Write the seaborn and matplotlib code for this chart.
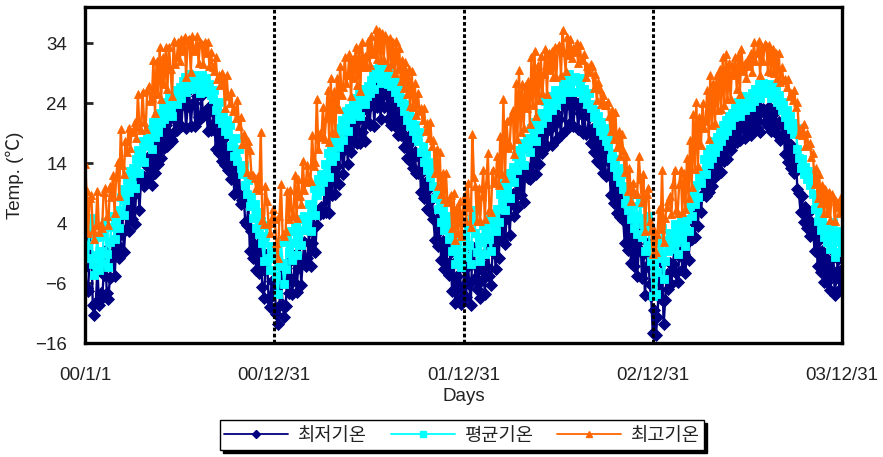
import matplotlib
matplotlib.use("Agg")
import matplotlib.pyplot as plt
import pandas as pd
import seaborn as sns

sns.set_style("white")
plt.rcParams["font.family"] = ["Liberation Sans", "Noto Sans CJK KR", "DejaVu Sans"]

# Daily temperature readings, one sample every 3 days, one block per month row
year_starts = ["2000-01-01", "2001-01-01", "2002-01-02", "2003-01-03"]

tmin_2000 = [
    -3.3, -6.8, -7.3, -1.2, 1.3, -9.7, -11.3, -9.1, -3.6, -9.6, -7.6,
    -8.5, -4.6, -0.7, -7.7, -8.6, -5.2, -2.1, 0.9, -4.9, -0.5,
    0.4, -1.8, 2.2, 5.3, -0.8, 2.9, 6.1, 2.7, 8.4, 4.7,
    8.5, 3.9, 10.3, 11.1, 6.1, 11.2, 11.8, 10.2, 10.6, 13.5,
    11.5, 15.3, 10.4, 16.9, 12.3, 17.1, 13.8, 18.8, 14.9, 18.9,
    16.5, 20.4, 16.8, 21.4, 18.0, 17.7, 19.1, 22.3, 19.5, 20.7,
    23.3, 20.1, 24.7, 24.3, 19.9, 23.5, 26.1, 20.1, 23.9, 24.0, 20.1,
    25.1, 21.7, 21.4, 25.4, 21.8, 22.5, 22.7, 19.3, 23.4, 19.5,
    20.5, 22.4, 16.4, 19.0, 15.6, 20.6, 14.4, 18.0, 13.7, 16.5,
    12.8, 16.5, 11.4, 13.7, 8.9, 13.5, 9.2, 12.6, 7.1, 7.8,
    8.7, 4.2, 3.6, 7.1, -0.6, 2.7, -1.9, 2.4, -3.9, 0.5,
    -4.3, -0.7, -6.7, -8.5, -3.7, -1.2, -8.7, -10.0, -5.6, -7.9,
]
tmean_2000 = [
    2.8, 0.4, -1.9, 3.6, 4.9, -2.8, -4.7, -1.3, 1.6, -3.9, -0.7,
    -2.6, 1.8, 4.2, -1.1, -3.4, 0.9, 3.3, 5.1, 1.4, 4.6,
    6.2, 3.1, 8.4, 9.6, 5.3, 7.8, 11.2, 9.1, 12.6, 10.4,
    13.1, 9.8, 14.7, 16.2, 12.4, 15.3, 17.6, 14.1, 16.8, 18.2,
    17.1, 19.6, 16.3, 20.8, 18.4, 21.9, 19.2, 22.4, 20.6, 23.3,
    21.4, 24.1, 22.6, 25.3, 23.2, 21.8, 24.7, 26.1, 23.9, 25.8,
    26.7, 24.9, 27.6, 28.4, 25.8, 27.1, 28.9, 26.3, 27.8, 28.6, 26.9,
    28.2, 27.3, 25.6, 28.7, 27.9, 26.4, 28.1, 25.9, 27.2, 25.4,
    24.6, 26.1, 22.8, 23.9, 21.4, 24.2, 20.6, 22.3, 19.4, 21.1,
    18.9, 20.4, 16.8, 17.9, 15.2, 18.1, 14.3, 16.4, 13.1, 12.2,
    13.6, 10.4, 8.9, 11.2, 6.8, 8.3, 4.9, 7.1, 3.2, 5.8,
    2.1, 4.4, 0.6, -2.3, 1.9, 3.6, -1.8, -3.9, 0.2, -1.4,
]
tmax_2000 = [
    13.9, 9.3, 2.3, 8.1, 8.7, 2.8, 1.4, 3.6, 9.4, 2.5, 3.9,
    3.2, 9.2, 9.8, 5.2, 3.7, 10.1, 8.4, 12.0, 5.7, 11.7,
    14.1, 8.5, 19.6, 13.7, 12.1, 17.7, 15.8, 19.9, 16.5, 19.2,
    19.3, 20.9, 18.1, 25.5, 20.0, 19.5, 25.9, 20.9, 19.7, 26.1,
    26.9, 24.3, 24.9, 31.2, 22.3, 31.0, 25.5, 33.3, 24.7, 31.7,
    27.1, 33.3, 26.4, 33.4, 29.6, 25.1, 34.3, 30.5, 31.6, 34.2,
    31.0, 34.7, 32.7, 35.0, 28.4, 34.5, 34.7, 29.2, 35.1, 32.7, 33.1,
    35.1, 30.7, 34.2, 33.9, 30.5, 34.2, 32.4, 34.2, 30.1, 32.5,
    30.0, 29.3, 31.7, 28.0, 28.7, 27.0, 29.0, 27.9, 23.1, 28.7,
    25.2, 24.0, 25.9, 22.6, 23.1, 21.5, 24.5, 20.2, 21.7, 17.1,
    18.8, 18.2, 12.5, 17.6, 16.1, 12.2, 12.0, 11.5, 9.8, 11.9,
    9.5, 19.2, 4.5, 3.9, 10.2, 7.7, 4.0, 2.4, 4.9, 6.4,
]

tmin_2001 = [
    -7.4, -11.2, -12.8, -9.9, -4.5, -9.7, -11.7, -9.9, -4.7, -7.7, -2.3,
    -7.8, -5.7, -1.4, -7.5, -3.5, 0.6, -6.3, -2.4, 0.9, -3.1,
    -1.8, 2.6, -3.2, 0.7, 5.5, -0.9, 3.7, 5.8, 5.5, 6.7,
    5.7, 9.3, 5.8, 11.4, 5.7, 12.5, 8.7, 13.9, 8.9, 13.5,
    10.5, 15.6, 16.2, 12.1, 16.3, 18.7, 13.9, 18.9, 15.8, 20.3,
    17.5, 20.9, 17.3, 22.2, 17.3, 19.2, 22.8, 17.7, 21.0, 23.2,
    20.3, 24.3, 25.9, 20.2, 26.9, 23.3, 26.9, 21.4, 25.8, 23.3, 25.9,
    25.3, 21.3, 25.4, 20.4, 23.6, 20.2, 23.8, 18.7, 22.1, 18.7,
    20.8, 16.7, 20.2, 14.9, 18.5, 14.3, 17.6, 13.1, 15.8, 12.3,
    12.4, 15.0, 9.2, 12.6, 8.1, 10.9, 6.4, 9.9, 5.8, 8.0,
    4.6, 1.2, 4.6, 0.1, 2.9, -2.1, 1.0, -3.7, 0.5, -2.7,
    -4.6, -0.9, -7.4, -2.7, -9.3, -4.8, -8.8, -3.2, -9.5, -6.5,
]
tmean_2001 = [
    -1.6, -4.8, -7.9, -3.2, 0.8, -2.6, -6.1, -3.7, 1.2, -0.9, 2.6,
    -2.1, 0.6, 3.4, -1.4, 1.9, 4.7, 0.3, 2.8, 5.2, 3.1,
    4.1, 7.2, 2.6, 6.8, 9.9, 5.4, 8.6, 11.4, 9.3, 12.1,
    10.8, 13.9, 12.2, 15.6, 11.6, 16.9, 14.4, 17.8, 15.1, 18.3,
    16.6, 19.8, 21.1, 17.9, 20.4, 22.6, 19.3, 23.2, 21.4, 24.1,
    22.2, 24.8, 23.1, 25.6, 21.9, 24.3, 26.4, 23.8, 25.2, 26.9,
    25.7, 27.9, 28.8, 26.4, 29.6, 28.1, 30.1, 27.3, 29.2, 28.4, 29.8,
    28.6, 27.1, 29.3, 26.8, 28.2, 25.9, 27.6, 24.8, 26.3, 24.1,
    24.9, 22.6, 23.8, 21.2, 22.9, 20.1, 21.7, 19.3, 20.4, 18.2,
    17.6, 19.1, 15.8, 16.9, 14.2, 15.6, 12.8, 14.1, 11.6, 12.9,
    10.2, 8.1, 9.4, 6.3, 7.8, 4.2, 6.1, 2.9, 5.2, 3.4,
    1.3, 3.8, -0.6, 2.4, -2.9, 0.8, -1.9, 1.6, -3.4, -0.8,
]
tmax_2001 = [
    4.6, 0.6, -1.8, 5.1, 10.5, 2.2, 1.8, 2.7, 9.3, 4.7, 9.5,
    5.2, 5.5, 12.0, 4.8, 11.3, 8.5, 7.2, 14.4, 9.5, 10.9,
    13.7, 11.4, 11.0, 18.7, 13.5, 14.2, 24.7, 16.3, 19.0, 18.3,
    23.4, 18.0, 21.5, 26.2, 17.5, 28.1, 19.1, 26.0, 19.0, 28.1,
    23.0, 30.1, 25.3, 26.6, 31.6, 27.4, 28.7, 32.1, 25.1, 31.3,
    28.1, 33.4, 27.0, 33.0, 26.0, 34.1, 30.0, 31.9, 30.0, 34.4,
    30.3, 35.2, 32.2, 32.5, 36.3, 31.3, 36.0, 31.1, 35.6, 31.1, 35.4,
    34.7, 30.0, 34.9, 30.5, 34.1, 29.0, 34.3, 29.7, 33.2, 27.7,
    31.1, 26.5, 30.9, 25.5, 29.7, 23.5, 29.3, 23.4, 27.3, 22.0,
    25.7, 22.7, 23.2, 21.1, 23.1, 19.3, 20.6, 18.2, 20.9, 16.8,
    17.8, 12.4, 16.3, 10.1, 15.9, 8.8, 12.4, 8.0, 12.4, 7.5,
    7.7, 8.7, 3.2, 9.0, 1.2, 6.7, 2.4, 7.7, 1.8, 6.0,
]

tmin_2002 = [
    -3.7, -8.4, -1.9, -6.2, -9.7, -0.2, -0.2, -5.1, -7.0, -3.7, -8.5,
    -5.5, -1.3, -7.9, -3.2, 0.7, -4.8, -6.4, -0.8, 0.7, -3.6,
    1.6, -1.8, 4.6, 1.1, 6.5, 0.5, 4.8, 8.4, 2.0, 7.2,
    8.8, 5.1, 11.1, 6.5, 12.2, 8.7, 13.7, 7.5, 12.3, 13.3,
    11.5, 11.3, 16.0, 12.0, 16.8, 12.2, 17.8, 13.9, 18.1, 15.7,
    16.5, 20.5, 16.9, 19.7, 21.5, 17.0, 20.2, 22.5, 17.9, 21.2,
    21.3, 18.7, 23.8, 24.1, 19.5, 23.9, 24.5, 20.6, 24.4, 20.1, 24.1,
    23.8, 19.7, 22.4, 24.4, 19.0, 22.3, 18.9, 19.2, 21.7, 17.3,
    19.6, 15.8, 19.0, 14.4, 17.8, 13.8, 16.9, 12.3, 15.7, 11.8,
    12.2, 14.1, 8.6, 11.5, 7.3, 10.3, 5.6, 8.8, 5.0, 7.5,
    4.5, 0.6, 5.9, -0.5, 3.5, -2.6, 1.8, -3.2, 0.5, -4.8,
    -0.4, 3.7, -5.2, -1.2, -8.0, -3.1, 0.7, -6.2, -8.2, -14.3,
]
tmean_2002 = [
    1.9, -1.6, 3.2, 0.4, -2.8, 4.6, 6.1, 2.3, -0.8, 1.7, -2.4,
    0.9, 3.6, -1.2, 2.4, 4.9, 1.3, -0.6, 3.8, 5.6, 2.7,
    6.4, 4.1, 8.9, 7.3, 10.6, 6.2, 9.4, 12.3, 8.1, 11.6,
    13.4, 10.9, 15.2, 12.8, 16.1, 14.3, 17.4, 13.6, 16.6, 18.1,
    17.4, 15.9, 19.8, 18.2, 20.9, 17.6, 21.4, 19.7, 22.3, 20.6,
    22.1, 24.3, 21.6, 23.8, 25.1, 22.9, 24.6, 26.2, 23.7, 25.4,
    26.1, 24.6, 27.4, 28.2, 25.9, 27.8, 28.9, 26.7, 27.9, 25.8, 28.3,
    27.6, 25.9, 26.8, 28.1, 24.9, 26.4, 25.2, 23.8, 25.6, 23.1,
    23.9, 21.7, 22.8, 20.6, 21.9, 19.4, 20.8, 18.7, 19.9, 17.6,
    16.8, 18.2, 14.9, 15.7, 13.4, 14.6, 11.8, 13.2, 10.9, 12.1,
    9.6, 7.4, 10.2, 6.1, 8.3, 4.6, 6.9, 3.2, 5.4, 2.1,
    4.8, 7.3, 1.6, 3.9, -0.7, 2.8, 5.1, 0.4, -2.3, -8.2,
]
tmax_2002 = [
    8.6, 4.3, 10.6, 6.6, 3.3, 18.8, 11.7, 10.2, 4.3, 9.9, 4.4,
    8.5, 12.8, 4.7, 10.5, 15.6, 6.1, 5.8, 12.9, 10.8, 10.6,
    15.1, 10.3, 18.5, 12.1, 24.7, 11.5, 21.0, 16.5, 17.0, 21.8,
    22.8, 15.5, 27.3, 18.0, 29.5, 19.1, 27.1, 19.8, 26.9, 23.2,
    27.6, 20.5, 31.7, 23.6, 32.7, 21.8, 30.3, 24.5, 31.9, 25.7,
    28.9, 33.0, 25.5, 32.4, 29.5, 32.6, 28.4, 33.3, 28.3, 33.3,
    33.7, 28.7, 36.2, 32.5, 29.3, 35.0, 32.0, 34.6, 31.5, 33.1, 32.5,
    34.0, 30.6, 33.7, 31.3, 31.2, 32.2, 28.3, 30.2, 29.2, 30.5,
    30.1, 26.5, 28.9, 24.5, 27.5, 26.3, 23.9, 25.3, 23.6, 23.7,
    24.2, 21.8, 19.3, 22.8, 18.0, 22.5, 16.6, 19.3, 15.2, 18.8,
    16.2, 12.5, 15.1, 9.3, 13.2, 7.7, 10.7, 9.1, 8.8, 8.9,
    15.2, 11.4, 7.5, 12.1, 2.7, 8.9, 9.9, 4.3, 2.8, -1.1,
]

tmin_2003 = [
    -10.5, -14.7, -11.7, -5.6, -8.7, -2.7, -12.9, -8.8, -4.5, -7.0, -2.7,
    -6.2, -2.8, -0.1, -4.4, -5.8, -1.5, 0.8, -3.8, -1.1, -4.4,
    0.6, -2.2, 1.8, 1.3, 4.2, 1.7, 6.1, 3.5, 8.1, 5.9,
    8.8, 10.2, 8.5, 11.7, 9.1, 13.0, 10.2, 13.7, 11.6, 14.2,
    12.2, 15.3, 12.5, 16.7, 14.3, 17.3, 14.6, 18.2, 16.1, 18.5,
    17.3, 19.6, 17.5, 20.7, 17.8, 19.8, 21.2, 18.2, 21.1, 18.9,
    20.5, 18.6, 22.1, 19.6, 22.5, 19.9, 23.4, 19.2, 22.7, 23.0, 20.8,
    22.9, 20.2, 23.4, 19.3, 22.1, 19.4, 22.6, 18.9, 20.8, 17.8,
    18.5, 20.2, 15.5, 18.6, 14.1, 17.2, 13.2, 15.9, 12.3, 14.7,
    9.6, 9.0, 5.8, 8.5, 4.2, 6.7, 3.2, 5.7, 1.9, 4.1,
    3.4, -0.7, 2.3, -3.1, 1.1, -4.1, -0.7, -5.9, -1.6, -5.9,
    -2.4, -7.2, -3.8, -0.6, -8.0, -5.1, -2.0, -7.1, -3.9,
]
tmean_2003 = [
    -2.6, -7.8, -4.1, 0.6, -1.9, 3.2, -5.3, -2.4, 1.1, -0.7, 2.4,
    -0.4, 2.1, 3.8, 0.9, -1.2, 2.6, 4.4, 1.3, 3.1, 0.2,
    4.7, 2.6, 6.9, 5.2, 8.8, 7.1, 10.3, 8.4, 11.9, 10.6,
    12.7, 14.6, 12.1, 15.8, 13.9, 16.4, 14.8, 17.6, 15.9, 18.3,
    16.8, 19.1, 17.6, 20.3, 18.7, 21.2, 19.4, 21.9, 20.3, 22.4,
    21.6, 23.2, 22.4, 24.1, 21.9, 23.6, 25.1, 22.8, 24.4, 23.3,
    24.6, 23.4, 25.7, 24.3, 26.4, 25.1, 27.2, 24.8, 26.6, 27.4, 25.9,
    26.8, 25.6, 27.1, 24.9, 26.2, 25.3, 26.9, 24.1, 25.4, 23.6,
    22.9, 24.1, 21.6, 22.8, 20.4, 21.8, 19.6, 20.7, 18.9, 19.8,
    16.4, 14.9, 13.2, 14.6, 12.1, 13.3, 11.4, 12.6, 10.3, 11.2,
    8.8, 6.4, 7.9, 4.3, 5.9, 2.8, 4.6, 1.7, 3.6, 0.9,
    2.9, -0.3, 1.8, 4.1, -1.6, 0.8, 2.6, -0.9, 1.5,
]
tmax_2003 = [
    2.8, -0.9, 2.2, 6.4, 3.0, 12.8, 0.8, 4.8, 6.7, 7.6, 8.5,
    5.5, 10.5, 12.9, 6.2, 5.6, 10.5, 12.8, 5.9, 12.3, 6.3,
    14.8, 8.2, 17.8, 10.0, 22.2, 13.0, 24.2, 13.5, 21.6, 17.0,
    24.0, 19.8, 21.0, 26.2, 18.0, 28.7, 20.4, 27.4, 20.6, 28.7,
    22.9, 29.7, 23.0, 31.6, 23.6, 32.1, 24.6, 30.7, 24.6, 30.3,
    28.7, 31.6, 26.3, 31.9, 25.5, 33.0, 29.4, 30.7, 28.2, 31.4,
    30.2, 32.3, 29.1, 34.1, 31.0, 32.4, 34.3, 28.7, 33.4, 31.0, 33.8,
    33.7, 29.4, 33.7, 29.1, 33.0, 29.0, 32.3, 28.2, 32.3, 27.5,
    30.0, 27.8, 28.0, 26.7, 28.0, 25.2, 25.7, 24.5, 26.1, 23.4,
    24.2, 18.8, 19.9, 18.7, 20.5, 16.9, 19.0, 17.0, 17.4, 15.0,
    15.7, 10.5, 13.1, 8.1, 12.2, 7.4, 10.4, 5.6, 9.7, 5.7,
    9.1, 4.5, 8.9, 8.4, 4.3, 7.6, 6.7, 5.7, 8.3,
]

series_names = ["최저기온", "평균기온", "최고기온"]
series_colors = ["#000080", "#00FFFF", "#FF6600"]
series_markers = ["D", "s", "^"]

year_ends = ["2000-12-31", "2001-12-31", "2002-12-31"]
tick_dates = ["2000-01-01", "2000-12-31", "2001-12-31", "2002-12-31", "2003-12-31"]
tick_labels = ["00/1/1", "00/12/31", "01/12/31", "02/12/31", "03/12/31"]
y_ticks = [-16, -6, 4, 14, 24, 34]

yearly = [
    (year_starts[0], tmin_2000, tmean_2000, tmax_2000),
    (year_starts[1], tmin_2001, tmean_2001, tmax_2001),
    (year_starts[2], tmin_2002, tmean_2002, tmax_2002),
    (year_starts[3], tmin_2003, tmean_2003, tmax_2003),
]
frames = []
for start, lo, mid, hi in yearly:
    frames.append(pd.DataFrame({
        "date": pd.date_range(start, periods=len(mid), freq="3D"),
        series_names[0]: lo, series_names[1]: mid, series_names[2]: hi,
    }))
df = pd.concat(frames, ignore_index=True)

fig = plt.figure(figsize=(8.83, 4.57), dpi=100)
ax = fig.add_axes([85 / 883, 1 - 343 / 457, (842 - 85) / 883, (343 - 7) / 457])

marker_sizes = [6.0, 5.4, 6.0]
series_lines = []
for name, col, mk, ms in zip(series_names, series_colors, series_markers, marker_sizes):
    n_before = len(ax.lines)
    sns.lineplot(data=df, x="date", y=name, ax=ax, color=col, marker=mk,
                 linewidth=1.7, label=name, legend=False)
    for ln in ax.lines[n_before:]:
        ln.set_marker(mk)
        ln.set_markersize(ms)
        ln.set_markeredgecolor(col)
        ln.set_markerfacecolor(col)
        ln.set_markeredgewidth(0.6)
        ln.set_linewidth(1.7)
        series_lines.append(ln)

for d in year_ends:
    ax.axvline(pd.Timestamp(d), color="black", linestyle=(0, (1.2, 0.8)),
               linewidth=2.2, zorder=5)

ax.set_xlim(pd.Timestamp("2000-01-01"), pd.Timestamp("2003-12-31"))
ax.set_ylim(-16, 40)
ax.set_yticks(y_ticks)
ax.set_yticklabels(["\u2212" + str(-v) if v < 0 else str(v) for v in y_ticks])
ax.set_xticks([pd.Timestamp(d) for d in tick_dates])
ax.set_xticklabels(tick_labels)

ax.tick_params(axis="y", direction="in", length=6, width=2, pad=13,
               labelsize=13.5, left=True)
ax.tick_params(axis="x", length=0, pad=17, labelsize=13.5)
for lab in ax.get_xticklabels() + ax.get_yticklabels():
    lab.set_color("#222222")

for sp in ax.spines.values():
    sp.set_visible(True)
    sp.set_color("black")
    sp.set_linewidth(2.4)

ax.set_ylabel("Temp. (℃)", fontsize=13.5, color="#222222", labelpad=8)
ax.set_xlabel("Days", fontsize=13.5, color="#222222", labelpad=3)

legend_handles = [
    plt.Line2D([], [], color=c, marker=m, markersize=4.5, markeredgecolor=c,
               linewidth=1.3)
    for c, m in zip(series_colors, series_markers)
]
leg = fig.legend(legend_handles, series_names, loc="center",
                 bbox_to_anchor=(462 / 883, 1 - 435 / 457), ncol=3,
                 frameon=True, fancybox=False,
                 shadow={"color": "black", "alpha": 1.0},
                 edgecolor="black", handlelength=3.4,
                 columnspacing=1.3, handletextpad=0.5, borderpad=0.25,
                 prop={"family": ["Noto Sans CJK KR", "DejaVu Sans"], "size": 13.5})
leg.get_frame().set_linewidth(1.0)
for t in leg.get_texts():
    t.set_color("#222222")

fig.savefig("out.png", dpi=100)
